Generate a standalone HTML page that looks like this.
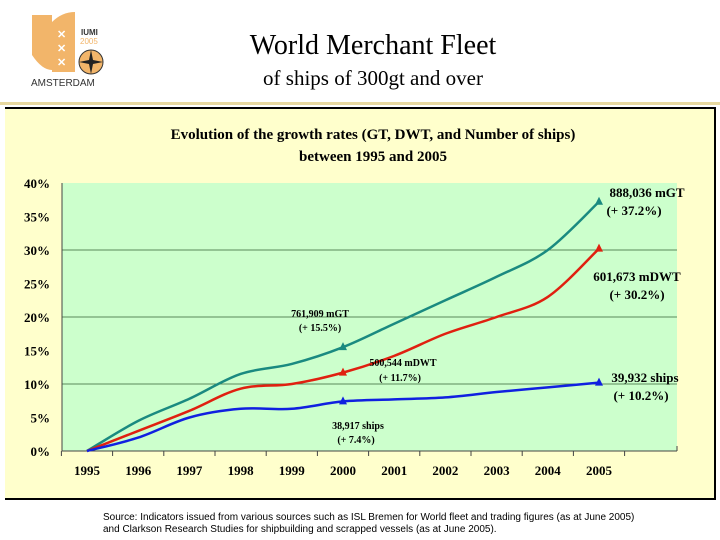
<!DOCTYPE html>
<html><head><meta charset="utf-8"><style>
body{margin:0;width:720px;height:540px;background:#fff;position:relative;overflow:hidden;font-family:"Liberation Serif",serif}
.abs{position:absolute}
</style></head><body>
<svg class="abs" style="left:0;top:0" width="120" height="95">
<path d="M32,15 L52,15 L52,70 Q42,70 32,55 Z" fill="#f2b56a"/>
<path d="M52,22 Q62,12 75,12 L75,72 L52,72 Z" fill="#f2b56a"/>
<g fill="#fff" font-family="Liberation Sans" font-weight="bold" font-size="11"><text x="57" y="38">✕</text><text x="57" y="52">✕</text><text x="57" y="66">✕</text></g>
<text x="81" y="35" font-family="Liberation Sans" font-weight="bold" font-size="8" fill="#333">IUMI</text>
<text x="80" y="44" font-family="Liberation Sans" font-size="8" fill="#f2b56a">2005</text>
<circle cx="91" cy="62" r="12" fill="#f2b56a" stroke="#333"/>
<path d="M91,50 L93,60 L103,62 L93,64 L91,74 L89,64 L79,62 L89,60 Z" fill="#222"/>
<text x="31" y="86" font-family="Liberation Sans" font-size="10" fill="#333">AMSTERDAM</text>
</svg>
<div class="abs" style="left:0;width:746px;top:30px;text-align:center;font-size:28px">World Merchant Fleet</div>
<div class="abs" style="left:0;width:746px;top:66px;text-align:center;font-size:21px">of ships of 300gt and over</div>
<div class="abs" style="left:0;top:102px;width:720px;height:3px;background:#e8d9a0"></div>
<div class="abs" style="left:5px;top:107px;width:709px;height:389px;background:#ffffcc;border-top:2px solid #000;border-right:2px solid #000;border-bottom:2px solid #000"></div>
<svg id="chart" class="abs" style="left:0;top:0" width="720" height="540"></svg>
<div class="abs" style="left:103px;top:512px;font-family:'Liberation Sans',sans-serif;font-size:10px;line-height:12px;white-space:nowrap">Source: Indicators issued from various sources such as ISL Bremen for World fleet and trading figures (as at June 2005)<br>and Clarkson Research Studies for shipbuilding and scrapped vessels (as at June 2005).</div>
<script>
const years=["1995","1996","1997","1998","1999","2000","2001","2002","2003","2004","2005"];
const gtValues=[0,4.5,7.8,11.5,13,15.5,19,22.5,26,30,37.2];
const dwtValues=[0,3,6,9.3,10,11.7,14.2,17.5,20,23,30.2];
const shipValues=[0,2,5,6.3,6.3,7.4,7.7,8,8.8,9.5,10.2];
const yTicks=[0,5,10,15,20,25,30,35,40];
const NS="http://www.w3.org/2000/svg";
const svg=document.getElementById('chart');
const L=62,R=677,T=183,B=451;
function x(i){return 87+i*(599-87)/10;}
function y(v){return B-(v/40)*(B-T);}
function mk(t,a,p){const e=document.createElementNS(NS,t);for(const k in a)e.setAttribute(k,a[k]);(p||svg).appendChild(e);return e;}
const t1=mk('text',{x:373,y:139,'text-anchor':'middle','font-size':15,'font-weight':'bold','font-family':'Liberation Serif'});t1.textContent='Evolution of the growth rates (GT, DWT, and Number of ships)';

const t2=mk('text',{x:373,y:161,'text-anchor':'middle','font-size':15,'font-weight':'bold','font-family':'Liberation Serif'});t2.textContent='between 1995 and 2005';

const bg=mk('rect',{x:L,y:T,width:R-L,height:B-T,fill:'#ccffcc'});

yTicks.forEach(v=>{
 if(v%10===0&&v>0&&v<40){const g=mk('line',{x1:L,x2:R,y1:y(v),y2:y(v),stroke:'#5a8a5a','stroke-width':1});}
 const tl=mk('text',{x:50,y:y(v)+5,'text-anchor':'end','font-size':13,'font-weight':'bold'});tl.textContent=v+'%';
 
});
mk('line',{x1:L,x2:L,y1:T,y2:B,stroke:'#444'});mk('line',{x1:L,x2:R,y1:B,y2:B,stroke:'#444'});mk('line',{x1:R,x2:R,y1:B-5,y2:B,stroke:'#444'});
years.forEach((yr,i)=>{
 mk('line',{x1:x(i)+25.6,x2:x(i)+25.6,y1:B,y2:B+5,stroke:'#444'});
 const tl=mk('text',{x:x(i),y:475,'text-anchor':'middle','font-size':13,'font-weight':'bold'});tl.textContent=yr;
 
});
mk('line',{x1:x(0)-25.6,x2:x(0)-25.6,y1:B,y2:B+5,stroke:'#444'});
function smooth(vals){const p=vals.map((v,i)=>[x(i),y(v)]);let d='M'+p[0];for(let i=0;i<p.length-1;i++){const p0=p[i-1]||p[i],p1=p[i],p2=p[i+1],p3=p[i+2]||p2;const c1=[p1[0]+(p2[0]-p0[0])/6,p1[1]+(p2[1]-p0[1])/6],c2=[p2[0]-(p3[0]-p1[0])/6,p2[1]-(p3[1]-p1[1])/6];d+='C'+c1+' '+c2+' '+p2;}return d;}
[[gtValues,'#1a8a80','gt'],[dwtValues,'#e02010','dwt'],[shipValues,'#1020e0','ships']].forEach(([vals,c,n])=>{
 const l=mk('path',{d:smooth(vals),fill:'none',stroke:c,'stroke-width':2.5});
 
 [5,10].forEach(i=>{const m=mk('path',{d:`M${x(i)},${y(vals[i])-5}l4,8h-8z`,fill:c});
 });
});
function lab(tx,yy,s,sz,nm){const t=mk('text',{x:tx,y:yy,'text-anchor':'middle','font-size':sz,'font-weight':'bold'});t.textContent=s;}
lab(647,197,'888,036 mGT',13,'gt-2005-label');lab(634,215,'(+ 37.2%)',13,'gt-2005-pct');
lab(637,281,'601,673 mDWT',13,'dwt-2005-label');lab(637,299,'(+ 30.2%)',13,'dwt-2005-pct');
lab(645,382,'39,932 ships',13,'ships-2005-label');lab(641,400,'(+ 10.2%)',13,'ships-2005-pct');
lab(320,317,'761,909 mGT',10,'gt-2000-label');lab(320,331,'(+ 15.5%)',10,'gt-2000-pct');
lab(403,366,'500,544 mDWT',10,'dwt-2000-label');lab(400,381,'(+ 11.7%)',10,'dwt-2000-pct');
lab(358,429,'38,917 ships',10,'ships-2000-label');lab(356,443,'(+ 7.4%)',10,'ships-2000-pct');
</script>
</body></html>
